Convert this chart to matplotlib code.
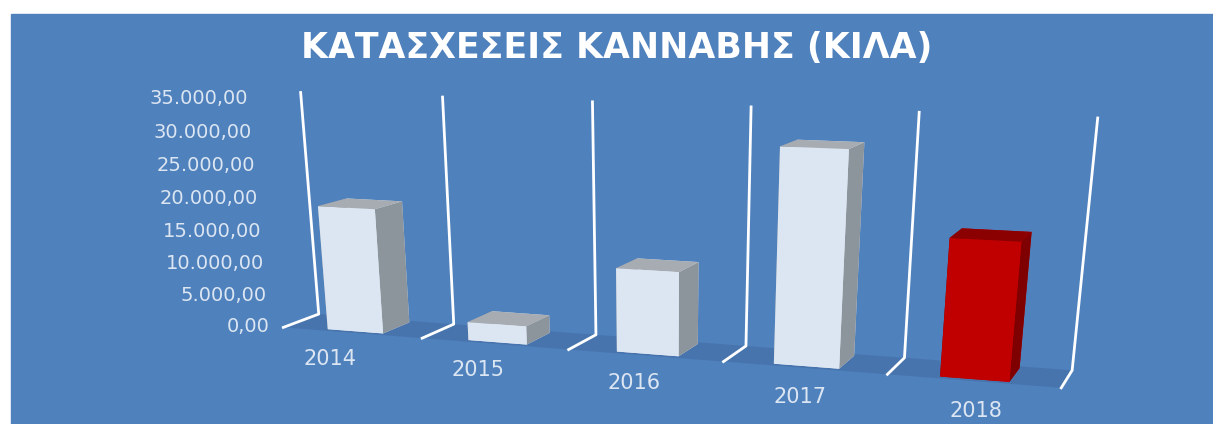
import numpy as np
import matplotlib.pyplot as plt
from matplotlib.patches import Rectangle
from mpl_toolkits.mplot3d.art3d import Poly3DCollection

# δεδομένα
years = ["2014", "2015", "2016", "2017", "2018"]
values = [19200, 2800, 12500, 30800, 19500]
ticks = [0, 5000, 10000, 15000, 20000, 25000, 30000, 35000]
tick_labels = ["0,00", "5.000,00", "10.000,00", "15.000,00", "20.000,00",
               "25.000,00", "30.000,00", "35.000,00"]
title = "ΚΑΤΑΣΧΕΣΕΙΣ ΚΑΝΝΑΒΗΣ (ΚΙΛΑ)"

BG = "#4F81BD"
FLOOR = "#4874AD"
LABEL = "#DCE6F2"
ZMAX = 35000
K = 0.1  # λοξό βάθος (όπως στο Excel)


def pt(x, d, z):
    # το βάθος μετατοπίζει λίγο προς τα δεξιά
    return (x + K * d, d, z)


def box(x0, x1, d0, d1, h):
    bottom = [pt(x0, d0, 0), pt(x1, d0, 0), pt(x1, d1, 0), pt(x0, d1, 0)]
    top = [pt(x0, d0, h), pt(x1, d0, h), pt(x1, d1, h), pt(x0, d1, h)]
    front = [pt(x0, d0, 0), pt(x1, d0, 0), pt(x1, d0, h), pt(x0, d0, h)]
    back = [pt(x0, d1, 0), pt(x1, d1, 0), pt(x1, d1, h), pt(x0, d1, h)]
    left = [pt(x0, d0, 0), pt(x0, d1, 0), pt(x0, d1, h), pt(x0, d0, h)]
    right = [pt(x1, d0, 0), pt(x1, d1, 0), pt(x1, d1, h), pt(x1, d0, h)]
    return [bottom, back, left, front, top, right]


fig = plt.figure(figsize=(12.13, 4.24), dpi=100)
fig.patches.append(Rectangle((11 / 1213, 0), 1, 1 - 14 / 424,
                             transform=fig.transFigure, color=BG, zorder=-10))

ax = fig.add_axes([0.037, -0.11, 1.0, 1.1], projection="3d")
ax.set_facecolor("none")
ax.set_axis_off()
ax.computed_zorder = False
ax.set_proj_type("persp", focal_length=0.45)
ax.view_init(elev=15, azim=-78)
n = len(years)
ax.set_xlim(-0.5, n - 0.5 + K)
ax.set_ylim(0, 1)
ax.set_zlim(0, ZMAX)
ax.set_box_aspect((n + K, 0.3, 1.55), zoom=1.78)

arts = []
# δάπεδο
floor = Poly3DCollection([[pt(-0.5, 0, 0), pt(n - 0.5, 0, 0), pt(n - 0.5, 1, 0), pt(-0.5, 1, 0)]],
                         facecolor=FLOOR, edgecolor="none", zorder=1)
ax.add_collection3d(floor)
arts.append(floor)

# γραμμές πλέγματος
for b in np.arange(n + 1) - 0.5:
    p = [pt(b, 0, 0), pt(b, 1, 0), pt(b, 1, ZMAX)]
    xs, ys, zs = zip(*p)
    arts += ax.plot(xs, ys, zs, color="white", lw=2, zorder=2)

# στήλες
for i, v in enumerate(values):
    if i == n - 1:
        face, top, side = "#C00000", "#8B0000", "#7F0000"
    else:
        face, top, side = "#DCE6F2", "#A6ACB2", "#8C949C"
    cols = [face, face, side, face, top, side]
    col = Poly3DCollection(box(i - 0.2, i + 0.2, 0.1, 0.9, v), facecolors=cols,
                           edgecolor="none", zorder=3 + i)
    ax.add_collection3d(col)
    arts.append(col)

for t, lab in zip(ticks, tick_labels):
    arts.append(ax.text(*pt(-0.6, 0, t), lab, ha="right", va="center",
                        color=LABEL, fontsize=14, zorder=10))

for i, y in enumerate(years):
    arts.append(ax.text(i, -1.0, 0, y, ha="center", va="top",
                        color=LABEL, fontsize=15, zorder=10))

for a in arts:
    a.set_clip_on(False)

fig.text(0.508, 0.887, title, ha="center", va="center", color="white",
         fontsize=25, fontweight="bold")

fig.savefig("out.png", dpi=100)
